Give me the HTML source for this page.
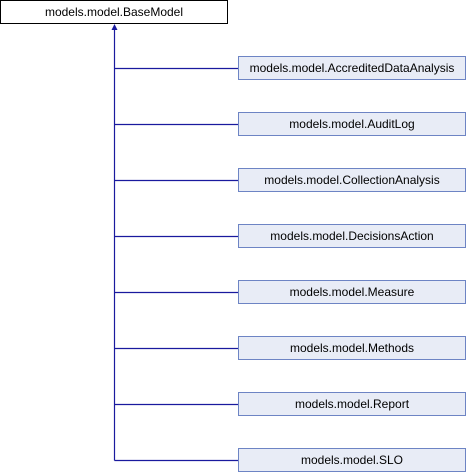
<!DOCTYPE html>
<html><head><style>
body{margin:0;background:#fff;width:466px;height:472px;overflow:hidden;position:relative;font-family:"Liberation Sans",Arial,sans-serif;font-size:12px;}
.b{position:absolute;box-sizing:border-box;height:24px;line-height:22px;text-align:center;color:#000;}
.base{left:0;top:0;width:228px;border:1px solid #000;background:#fff;}
.c{left:238px;width:228px;border:1px solid #6d84c4;background:#e8ecf6;}
</style></head><body>
<svg width="466" height="472" style="position:absolute;left:0;top:0">
<g stroke="#1a1a9e" stroke-width="1.2" fill="none">
<line x1="114.5" y1="28" x2="114.5" y2="460.5"/>
<line x1="114.5" y1="68.5" x2="238" y2="68.5"/>
<line x1="114.5" y1="124.5" x2="238" y2="124.5"/>
<line x1="114.5" y1="180.5" x2="238" y2="180.5"/>
<line x1="114.5" y1="236.5" x2="238" y2="236.5"/>
<line x1="114.5" y1="292.5" x2="238" y2="292.5"/>
<line x1="114.5" y1="348.5" x2="238" y2="348.5"/>
<line x1="114.5" y1="404.5" x2="238" y2="404.5"/>
<line x1="114.5" y1="460.5" x2="238" y2="460.5"/>
</g>
<polygon points="114.5,24 111.5,30 117.5,30" fill="#1a1a9e"/>
</svg>
<div class="b base">models.model.BaseModel</div>
<div class="b c" style="top:56px">models.model.AccreditedDataAnalysis</div>
<div class="b c" style="top:112px">models.model.AuditLog</div>
<div class="b c" style="top:168px">models.model.CollectionAnalysis</div>
<div class="b c" style="top:224px">models.model.DecisionsAction</div>
<div class="b c" style="top:280px">models.model.Measure</div>
<div class="b c" style="top:336px">models.model.Methods</div>
<div class="b c" style="top:392px">models.model.Report</div>
<div class="b c" style="top:448px">models.model.SLO</div>
</body></html>
